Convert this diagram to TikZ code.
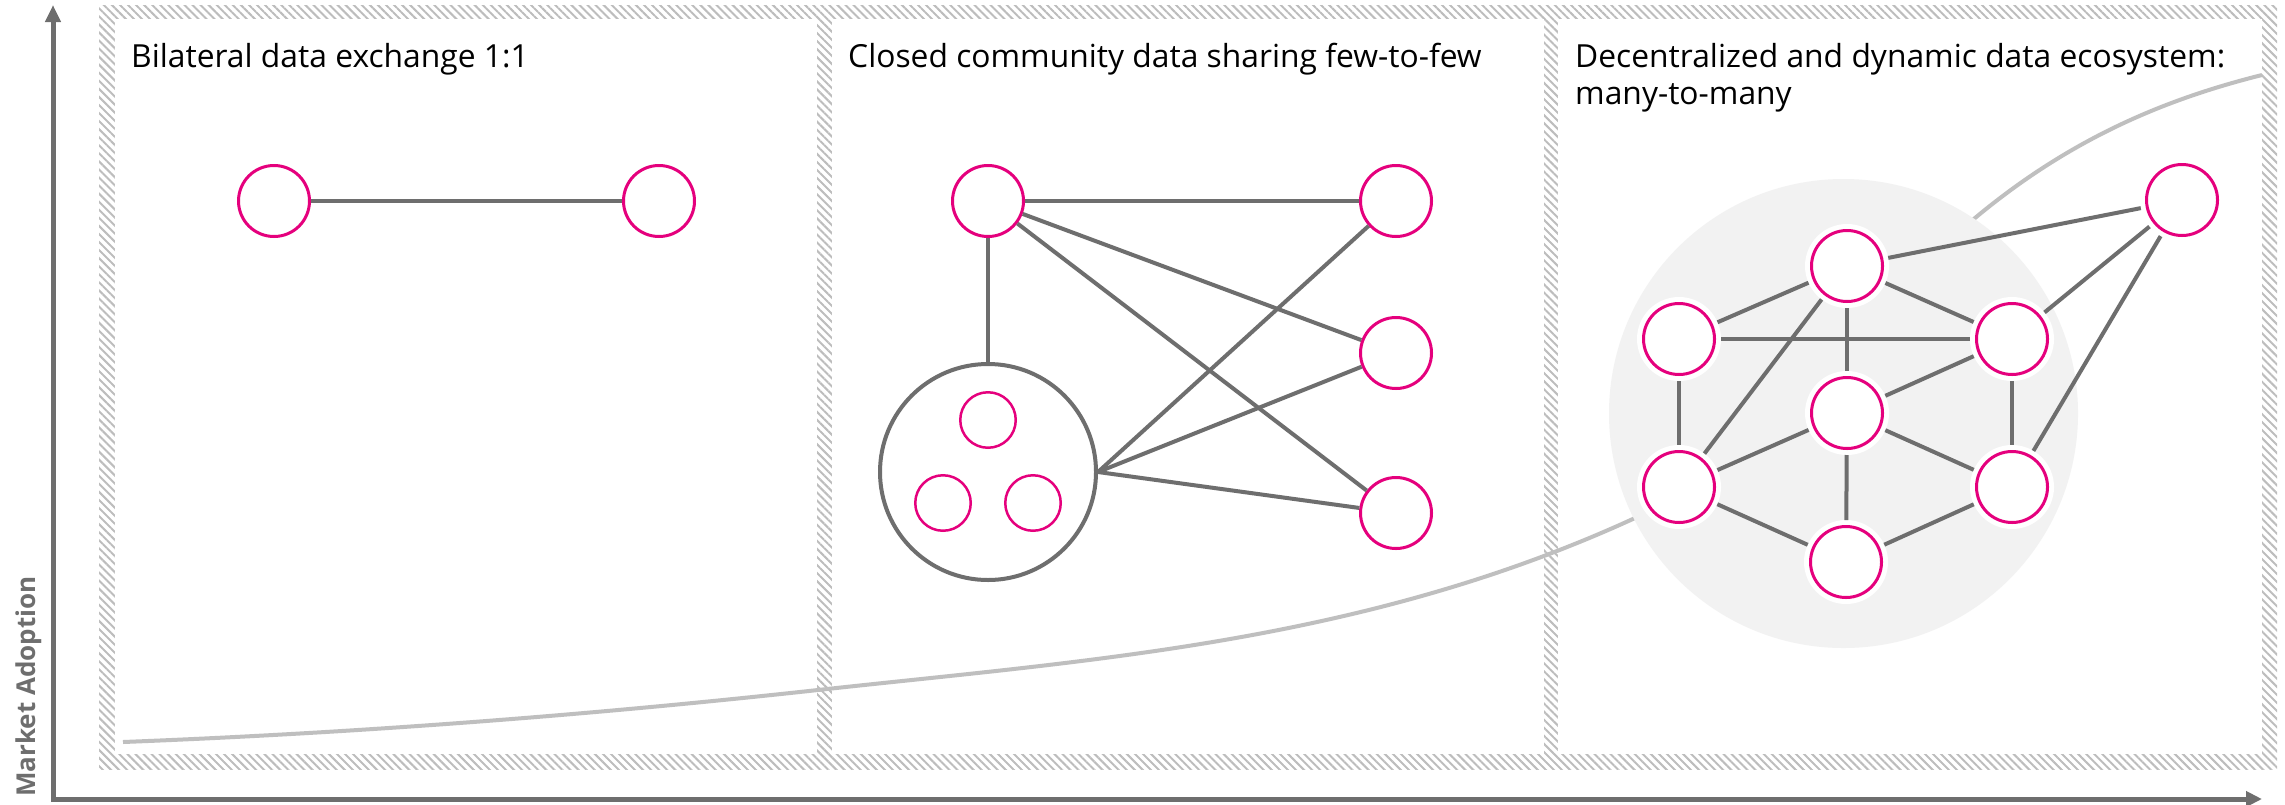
\documentclass[tikz,border=0pt]{standalone}
\usepackage{fontspec}
\setmainfont{Open Sans}
\usetikzlibrary{patterns.meta,arrows.meta}
\definecolor{mag}{HTML}{E5007D}
\definecolor{edgegray}{HTML}{6E6E6E}
\definecolor{curvegray}{HTML}{BFBFBF}
\definecolor{diskgray}{HTML}{F2F2F2}
\definecolor{hatchgray}{HTML}{BDBDBD}
\definecolor{axisgray}{HTML}{6E6E6E}
\tikzset{
  pn/.style={circle, draw=mag, line width=3pt, fill=white, minimum size=71pt, inner sep=0pt},
  pnh/.style={pn, outer sep=6.5pt, preaction={draw=white, line width=13pt}},
  sn/.style={circle, draw=mag, line width=2.5pt, minimum size=55.5pt, inner sep=0pt},
  bigc/.style={circle, draw=edgegray, line width=4pt, minimum size=216pt, inner sep=0pt},
  edge/.style={draw=edgegray, line width=4pt},
  curveline/.style={draw=curvegray, line width=4pt},
  axisline/.style={draw=axisgray, line width=5pt},
  title/.style={inner sep=0pt, anchor=base west, font=\fontsize{31.8}{37}\selectfont, text=black},
  diskn/.style={circle, fill=diskgray, minimum size=469pt, inner sep=0pt}
}
\begin{document}
\begin{tikzpicture}[x=1pt, y=-1pt]
\useasboundingbox (0,0) rectangle (2285,804);
% hatched frame
\fill[pattern={Lines[angle=-45,distance=5.7pt,line width=2pt]}, pattern color=hatchgray] (99,5) rectangle (2277,769);
\fill[white] (115,19) rectangle (817,754);
\fill[white] (832,19) rectangle (1544,754);
\fill[white] (1558,19) rectangle (2262,754);
% axes
\coordinate (ytip) at (53,5);
\coordinate (orig) at (53,799);
\coordinate (xtip) at (2262,799);
\draw[axisline, {Triangle[length=17pt,width=15pt]}-{Triangle[length=16pt,width=15pt]}] (ytip) -- (orig) -- (xtip);
\node[rotate=90, anchor=base west, inner sep=0pt, text=axisgray, font=\bfseries\fontsize{26}{28}\selectfont] (ma) at (35,797) {Market Adoption};
% adoption curve
\coordinate (cs) at (123,742);
\coordinate (ce) at (2262,75);
\draw[curveline] (cs) .. controls (355,733) and (586,715.5) .. (818,690)
  .. controls (1090,660) and (1363,643) .. (1635,518)
  .. controls (1748,466) and (1862,312) .. (1975,218)
  .. controls (2071,138) and (2166,99) .. (ce);
% titles
\node[title] (t1) at (131,67) {Bilateral data exchange 1:1};
\node[title] (t2) at (848,67) {Closed community data sharing few-to-few};
\node[title] (t3) at (1575,67) {Decentralized and dynamic data ecosystem:};
\node[title] (t4) at (1575,104) {many-to-many};
% panel 1
\node[pn] (a1) at (274,201) {};
\node[pn] (a2) at (659,201) {};
\draw[edge] (a1) -- (a2);
% panel 2
\node[pn] (b0) at (988,201) {};
\node[pn] (b1) at (1396,201) {};
\node[pn] (b2) at (1396,353) {};
\node[pn] (b3) at (1396,513) {};
\node[bigc] (g) at (988,472) {};
\node[sn] (s1) at (988,420) {};
\node[sn] (s2) at (943,503) {};
\node[sn] (s3) at (1033,503) {};
\draw[edge] (b0) -- (b1);
\draw[edge] (b0) -- (b2);
\draw[edge] (b0) -- (b3);
\draw[edge] (b0) -- (g);
\draw[edge] (g.east) -- (b1);
\draw[edge] (g.east) -- (b2);
\draw[edge] (g.east) -- (b3);
% panel 3
\node[diskn] (eco) at (1843.5,413.5) {};
\node[pnh] (cT) at (1847,266) {};
\node[pnh] (cLU) at (1679,339) {};
\node[pnh] (cRU) at (2012,339) {};
\node[pnh] (cC) at (1847,413) {};
\node[pnh] (cLL) at (1679,487) {};
\node[pnh] (cRL) at (2012,487) {};
\node[pnh] (cB) at (1846,562) {};
\node[pnh] (cFR) at (2182,200) {};
\draw[edge] (cT) -- (cLU);
\draw[edge] (cT) -- (cRU);
\draw[edge] (cT) -- (cC);
\draw[edge] (cT) -- (cLL);
\draw[edge] (cT) -- (cFR);
\draw[edge] (cLU) -- (cRU);
\draw[edge] (cLU) -- (cLL);
\draw[edge] (cRU) -- (cC);
\draw[edge] (cRU) -- (cRL);
\draw[edge] (cRU) -- (cFR);
\draw[edge] (cC) -- (cLL);
\draw[edge] (cC) -- (cRL);
\draw[edge] (cC) -- (cB);
\draw[edge] (cLL) -- (cB);
\draw[edge] (cRL) -- (cB);
\draw[edge] (cRL) -- (cFR);
\end{tikzpicture}
\end{document}
